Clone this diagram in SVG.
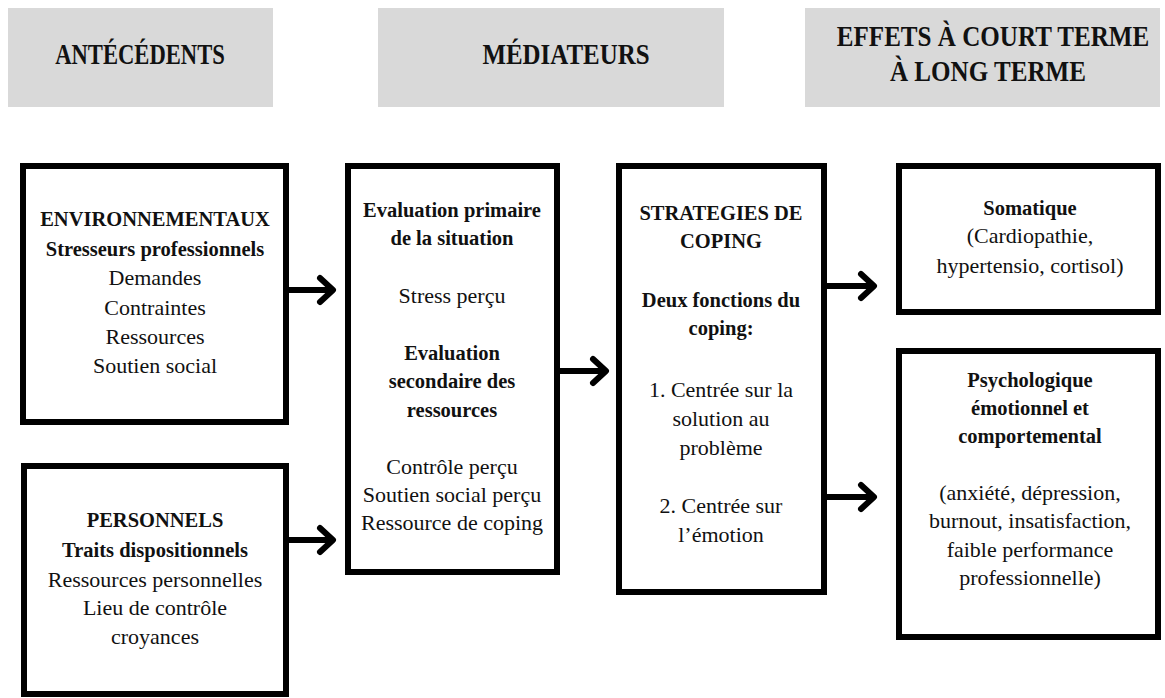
<svg xmlns="http://www.w3.org/2000/svg" width="1165" height="698" viewBox="0 0 1165 698">
<style>
.hdr{fill:#d9d9d9}
text{font-family:"Liberation Serif","DejaVu Serif",serif;fill:#111;text-anchor:middle}
.ht{font-weight:bold;font-size:29px}
.box{fill:#fff;stroke:#000;stroke-width:6}
.b{font-weight:bold;font-size:20.5px}
.r{font-size:22px}
.ar{fill:none;stroke:#000;stroke-width:6;stroke-linecap:round;stroke-linejoin:round}
</style>
<rect width="1165" height="698" fill="#fff"/>
<g id="h-antecedents"><rect class="hdr" x="8" y="8" width="265" height="99"/><text class="ht" transform="translate(140,64) scale(0.78,1)">ANTÉCÉDENTS</text></g>
<g id="h-mediateurs"><rect class="hdr" x="378" y="8" width="346" height="99"/><text class="ht" transform="translate(566,64) scale(0.86,1)">MÉDIATEURS</text></g>
<g id="h-effets"><rect class="hdr" x="805" y="8" width="355" height="99"/><text class="ht" transform="translate(993,46) scale(0.865,1)">EFFETS À COURT TERME</text><text class="ht" transform="translate(988,81) scale(0.865,1)">À LONG TERME</text></g>
<g id="connectors">
<path class="ar" d="M289,290 H332 M320,278 L333,290 L320,302"/>
<path class="ar" d="M289,540 H332 M320,528 L333,540 L320,552"/>
<path class="ar" d="M560,371 H605 M593,359 L606,371 L593,383"/>
<path class="ar" d="M827,286 H873 M861,274 L874,286 L861,298"/>
<path class="ar" d="M827,497 H873 M861,485 L874,497 L861,509"/>
</g>
<g id="n-env"><rect class="box" x="23" y="166" width="263" height="256"/>
<text class="b" x="155" y="226">ENVIRONNEMENTAUX</text>
<text class="b" x="155" y="256">Stresseurs professionnels</text>
<text class="r" x="155" y="285">Demandes</text>
<text class="r" x="155" y="315">Contraintes</text>
<text class="r" x="155" y="344">Ressources</text>
<text class="r" x="155" y="373">Soutien social</text>
</g>
<g id="n-pers"><rect class="box" x="24" y="466" width="262" height="228"/>
<text class="b" x="155" y="527">PERSONNELS</text>
<text class="b" x="155" y="557">Traits dispositionnels</text>
<text class="r" x="155" y="587">Ressources personnelles</text>
<text class="r" x="155" y="615">Lieu de contrôle</text>
<text class="r" x="155" y="644">croyances</text>
</g>
<g id="n-eval"><rect class="box" x="348" y="166" width="209" height="406"/>
<text class="b" x="452" y="217">Evaluation primaire</text>
<text class="b" x="452" y="245">de la situation</text>
<text class="r" x="452" y="303">Stress perçu</text>
<text class="b" x="452" y="360">Evaluation</text>
<text class="b" x="452" y="388">secondaire des</text>
<text class="b" x="452" y="417">ressources</text>
<text class="r" x="452" y="474">Contrôle perçu</text>
<text class="r" x="452" y="502">Soutien social perçu</text>
<text class="r" x="452" y="530">Ressource de coping</text>
</g>
<g id="n-coping"><rect class="box" x="619" y="166" width="205" height="426"/>
<text class="b" x="721" y="220">STRATEGIES DE</text>
<text class="b" x="721" y="248">COPING</text>
<text class="b" x="721" y="307">Deux fonctions du</text>
<text class="b" x="721" y="335">coping:</text>
<text class="r" x="721" y="397">1. Centrée sur la</text>
<text class="r" x="721" y="426">solution au</text>
<text class="r" x="721" y="455">problème</text>
<text class="r" x="721" y="513">2. Centrée sur</text>
<text class="r" x="721" y="542">l’émotion</text>
</g>
<g id="n-soma"><rect class="box" x="899" y="166" width="259" height="146"/>
<text class="b" x="1030" y="215">Somatique</text>
<text class="r" x="1030" y="243">(Cardiopathie,</text>
<text class="r" x="1030" y="273">hypertensio, cortisol)</text>
</g>
<g id="n-psy"><rect class="box" x="899" y="351" width="259" height="286"/>
<text class="b" x="1030" y="387">Psychologique</text>
<text class="b" x="1030" y="415">émotionnel et</text>
<text class="b" x="1030" y="443">comportemental</text>
<text class="r" x="1030" y="500">(anxiété, dépression,</text>
<text class="r" x="1030" y="528">burnout, insatisfaction,</text>
<text class="r" x="1030" y="557">faible performance</text>
<text class="r" x="1030" y="585">professionnelle)</text>
</g>
</svg>
